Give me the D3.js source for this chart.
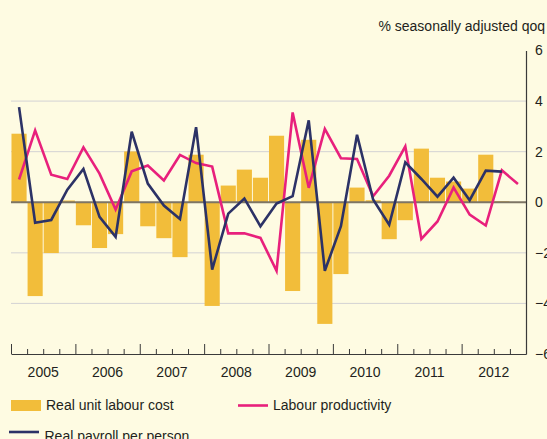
<!DOCTYPE html>
<html>
<head>
<meta charset="utf-8">
<script src="https://cdn.jsdelivr.net/npm/d3@7"></script>
<style>
  html, body { margin: 0; padding: 0; background: #fefbe2; }
  svg { display: block; }
  text { font-family: "Liberation Sans", Arial, sans-serif; fill: #231f20; }
</style>
</head>
<body>
<svg id="chart" width="547" height="439"></svg>
<script>
var years = ["2005", "2006", "2007", "2008", "2009", "2010", "2011", "2012"];
var quarters = [];
years.forEach(function(y) { ["Q1", "Q2", "Q3", "Q4"].forEach(function(q) { quarters.push(y + q); }); });

// real unit labour cost (bars), last quarter missing
var unitLabourCost = [2.71, -3.71, -2.01, 0.07, -0.91, -1.81, -1.26, 2.01,
  -0.95, -1.42, -2.17, 1.88, -4.1, 0.66, 1.29, 0.97,
  2.63, -3.51, 2.47, -4.81, -2.84, 0.58, 0.08, -1.46,
  -0.71, 2.12, 0.97, 0.82, 0.54, 1.88, 0.04, null];

var payrollPerPerson = [3.76, -0.81, -0.7, 0.5, 1.32, -0.58, -1.37, 2.79,
  0.74, -0.13, -0.66, 2.97, -2.66, -0.45, 0.15, -0.95,
  -0.05, 0.24, 3.24, -2.71, -0.95, 2.67, 0.11, -0.89,
  1.58, 0.92, 0.22, 0.97, 0.08, 1.25, 1.21, null];

var productivity = [0.9, 2.84, 1.09, 0.92, 2.17, 1.13, -0.29, 1.22,
  1.45, 0.86, 1.87, 1.55, 1.41, -1.23, -1.23, -1.41,
  -2.71, 3.55, 0.57, 2.9, 1.74, 1.71, 0.24, 1.05,
  2.21, -1.45, -0.76, 0.58, -0.49, -0.92, 1.26, 0.72];

var yTicks = [6, 4, 2, 0, -2, -4, -6];

var plotLeft = 11, plotRight = 526, plotTop = 50.5, plotBottom = 354;
var fontSize = "14px";
var svg = d3.select("#chart");

var x = d3.scaleBand().domain(quarters).range([plotLeft, plotRight]).paddingInner(0.06).paddingOuter(0.03);
var xq = d3.scaleLinear().domain([0, quarters.length]).range([plotLeft, plotRight]);
var xYear = d3.scaleBand().domain(years).range([plotLeft, plotRight]);
var y = d3.scaleLinear().domain([-6, 6]).range([plotBottom, plotTop]);

// gridlines
svg.append("g")
  .selectAll("line")
  .data(yTicks.filter(function(d) { return d !== 0 && Math.abs(d) !== 6; }))
  .join("line")
  .attr("x1", plotLeft).attr("x2", plotRight)
  .attr("y1", function(d) { return y(d); })
  .attr("y2", function(d) { return y(d); })
  .attr("stroke", "#d3d2d4")
  .attr("stroke-width", 1);

// bars
svg.append("g")
  .selectAll("rect")
  .data(quarters.map(function(q, i) { return { q: q, v: unitLabourCost[i] }; }).filter(function(d) { return d.v !== null; }))
  .join("rect")
  .attr("x", function(d) { return x(d.q); })
  .attr("width", x.bandwidth())
  .attr("y", function(d) { return y(Math.max(0, d.v)); })
  .attr("height", function(d) { return Math.abs(y(d.v) - y(0)); })
  .attr("fill", "#f2bd3a");

// zero line
svg.append("line")
  .attr("x1", plotLeft).attr("x2", plotRight)
  .attr("y1", y(0)).attr("y2", y(0))
  .attr("stroke", "#7d7565")
  .attr("stroke-width", 2);

// lines
var line = d3.line()
  .defined(function(d) { return d.v !== null; })
  .x(function(d) { return x(d.q) + x.bandwidth() / 2; })
  .y(function(d) { return y(d.v); });

function series(vals) {
  return quarters.map(function(q, i) { return { q: q, v: vals[i] }; });
}

svg.append("path")
  .datum(series(productivity))
  .attr("d", line)
  .attr("fill", "none")
  .attr("stroke", "#e8207c")
  .attr("stroke-width", 2.6)
  .attr("stroke-linejoin", "miter");

svg.append("path")
  .datum(series(payrollPerPerson))
  .attr("d", line)
  .attr("fill", "none")
  .attr("stroke", "#2c3266")
  .attr("stroke-width", 2.6)
  .attr("stroke-linejoin", "miter");

// bottom axis: quarter ticks pointing up, longer at year boundaries
var xAxis = svg.append("g")
  .attr("transform", "translate(0," + plotBottom + ")")
  .call(d3.axisBottom(xq)
    .tickValues(d3.range(0, quarters.length + 1))
    .tickFormat("")
    .tickSizeOuter(0)
    .tickSizeInner(-5));
xAxis.select(".domain").attr("stroke", "#3a3a3a").attr("stroke-width", 1.2);
xAxis.selectAll(".tick line")
  .attr("stroke", "#3a3a3a")
  .attr("y2", function(d) { return d % 4 === 0 ? -10 : -5; });

var yearAxis = svg.append("g")
  .attr("transform", "translate(0," + plotBottom + ")")
  .call(d3.axisBottom(xYear).tickSize(0).tickPadding(13));
yearAxis.select(".domain").remove();
yearAxis.selectAll("text").style("font-size", fontSize).style("font-family", "'Liberation Sans', Arial, sans-serif").attr("fill", "#231f20");

// right axis
var yAxis = svg.append("g")
  .attr("transform", "translate(" + plotRight + ",0)")
  .call(d3.axisRight(y).tickValues(yTicks).tickSize(0).tickPadding(9).tickSizeOuter(0));
yAxis.select(".domain").attr("stroke", "#3a3a3a").attr("stroke-width", 1.2);
yAxis.selectAll("text").style("font-size", fontSize).style("font-family", "'Liberation Sans', Arial, sans-serif").attr("fill", "#231f20");

svg.append("text")
  .attr("x", 545).attr("y", 26)
  .attr("dy", "0.35em")
  .attr("text-anchor", "end")
  .style("font-size", fontSize)
  .text("% seasonally adjusted qoq");

// legend
var legend = svg.append("g").style("font-size", fontSize);
legend.append("rect").attr("x", 11).attr("y", 400).attr("width", 30).attr("height", 11).attr("fill", "#f2bd3a");
legend.append("text").attr("x", 46).attr("y", 405.5).attr("dy", "0.35em").text("Real unit labour cost");
legend.append("line").attr("x1", 238).attr("x2", 268).attr("y1", 405.5).attr("y2", 405.5)
  .attr("stroke", "#e8207c").attr("stroke-width", 2.6);
legend.append("text").attr("x", 273).attr("y", 405.5).attr("dy", "0.35em").text("Labour productivity");
legend.append("line").attr("x1", 9).attr("x2", 39).attr("y1", 432).attr("y2", 432)
  .attr("stroke", "#2c3266").attr("stroke-width", 2.6);
legend.append("text").attr("x", 44.5).attr("y", 436).attr("dy", "0.35em").text("Real payroll per person");
</script>
</body>
</html>
